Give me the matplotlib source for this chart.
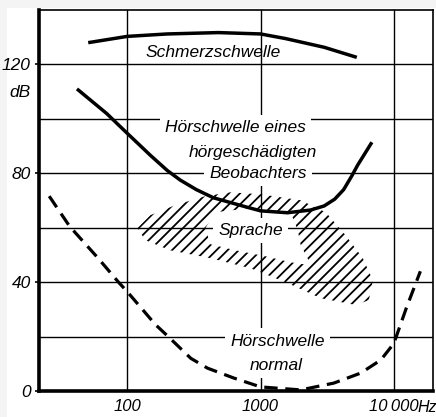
#Hoerflaeche: Schmerzschwelle, Hoerschwelle normal / hoergeschaedigt, Sprachbereich

#Libraries
import numpy as np
import matplotlib
matplotlib.use('Agg')
import matplotlib.pyplot as plt
from matplotlib.path import Path
from matplotlib.patches import PathPatch, Rectangle

plt.rcParams['font.family']=['Liberation Sans','DejaVu Sans']
plt.rcParams['font.style']='italic'
plt.rcParams['hatch.linewidth']=1.3

#Schmerzschwelle (Hz, dB)
pain_f=[51,100,200,483,1000,1540,3000,5270]
pain_db=[128,130.3,131.2,131.7,131.2,129.5,126.3,122.6]

#Hoerschwelle eines hoergeschaedigten Beobachters
impaired_f=[42,70,100,150,200,250,330,443,797,1000,1590,2375,3000,3600,4200,4830,5350,6840]
impaired_db=[111,102,94.7,86.5,81,77.5,74,71,67.5,66.2,65.5,66.5,68,70.5,74,79,83,91.4]

#Hoerschwelle normal
normal_f=[26,37,60,86,100,130,162,203,300,400,627,1000,2000,3540,5650,7980,10000,12400,15800]
normal_db=[71.6,60.5,49,40,36.5,30,24.5,20,12,8.4,4.8,1.5,0.4,2.9,6.6,11.4,17.5,30.5,44]

#Sprachbereich: outer border and inner hole
speech_outer_f=[119,149,230,385,594,1000,2000,3080,4350,5850,6950,6490,5180,2826,1540,841,421,210,137]
speech_outer_db=[59.8,64.6,68.3,71.6,73.0,72.3,70.1,65.7,57.2,48.8,40.7,33.4,31.6,34.1,40.0,45.1,48.8,51.7,55.4]
speech_inner_f=[385,459,841,1680,1900,2000,2250,2375,1680,1090,649,421]
speech_inner_db=[59.8,65.7,67.2,65.7,59.1,53.6,48.8,46.2,47.3,49.5,51.7,53.9]

y_ticks=[0,40,80,120]
y_minor=[20,60,100]
x_ticks=[100,1000,10000]
x_labels=['100','1000','10\u2009000']

fig=plt.figure(figsize=(4.36,4.17),dpi=100,facecolor='white')
#light strip along top and left border
fig.patches.append(Rectangle((0,0),1,1,transform=fig.transFigure,fc='#f4f4f4',ec='none',zorder=-2))
fig.patches.append(Rectangle((7/436,0),1,1-8/417,transform=fig.transFigure,fc='white',ec='none',zorder=-1))

ax=fig.add_axes([39/436,26/417,394/436,381/417])
ax.set_xscale('log')
ax.set_xlim(21.8,19650)
ax.set_ylim(0,140)

#grid
ax.set_xticks(x_ticks)
ax.set_xticklabels(x_labels)
ax.xaxis.set_minor_locator(matplotlib.ticker.NullLocator())
ax.set_yticks(y_ticks)
ax.set_yticks(y_minor,minor=True)
ax.grid(True,which='both',color='black',linewidth=1.0)
ax.set_axisbelow(True)
ax.tick_params(axis='x',length=0,pad=6,labelsize=12)
ax.tick_params(axis='y',which='major',length=3,width=1.2,pad=3,labelsize=12.5)
ax.tick_params(axis='y',which='minor',length=0)

for s in ['left','bottom']:
	ax.spines[s].set_linewidth(2.6)
for s in ['top','right']:
	ax.spines[s].set_linewidth(1.2)

#speech area, hatched ring
verts=list(zip(speech_outer_f,speech_outer_db))+[(speech_outer_f[0],speech_outer_db[0])]
codes=[Path.MOVETO]+[Path.LINETO]*(len(speech_outer_f)-1)+[Path.CLOSEPOLY]
inner=list(zip(speech_inner_f,speech_inner_db))[::-1]
verts+=inner+[inner[0]]
codes+=[Path.MOVETO]+[Path.LINETO]*(len(inner)-1)+[Path.CLOSEPOLY]
ax.add_patch(PathPatch(Path(verts,codes),facecolor='none',edgecolor='black',linewidth=0,hatch='///',zorder=2))

#curves
ax.plot(pain_f,pain_db,color='black',linewidth=2.5,solid_capstyle='butt',zorder=4)
ax.plot(impaired_f,impaired_db,color='black',linewidth=2.5,solid_capstyle='butt',zorder=4)
ax.plot(normal_f,normal_db,color='black',linewidth=2.3,linestyle=(0,(4.2,2.4)),zorder=4)

#labels
box=dict(boxstyle='square,pad=0.3',fc='white',ec='none')
fs=12.5
ax.text(440,124.4,'Schmerzschwelle',ha='center',va='center',fontsize=fs)
ax.text(648,96.9,'Hörschwelle eines',ha='center',va='center',fontsize=fs,bbox=box,zorder=3)
ax.text(870,87.7,'hörgeschädigten',ha='center',va='center',fontsize=fs,bbox=box,zorder=3)
ax.text(955,80,'Beobachters',ha='center',va='center',fontsize=fs,bbox=box,zorder=3)
ax.text(840,59,'Sprache',ha='center',va='center',fontsize=fs,bbox=box,zorder=3)
ax.text(1340,18.3,'Hörschwelle',ha='center',va='center',fontsize=fs,bbox=box,zorder=3)
ax.text(1320,9.5,'normal',ha='center',va='center',fontsize=fs,bbox=box,zorder=3)

ax.annotate('dB',xy=(0,109.7),xycoords=('axes fraction','data'),xytext=(-6,0),textcoords='offset points',ha='right',va='center',fontsize=fs)
fig.text(417/436,9/417,'Hz',ha='left',va='center',fontsize=11.5)

plt.savefig('out.png',dpi=100,facecolor=fig.get_facecolor())
